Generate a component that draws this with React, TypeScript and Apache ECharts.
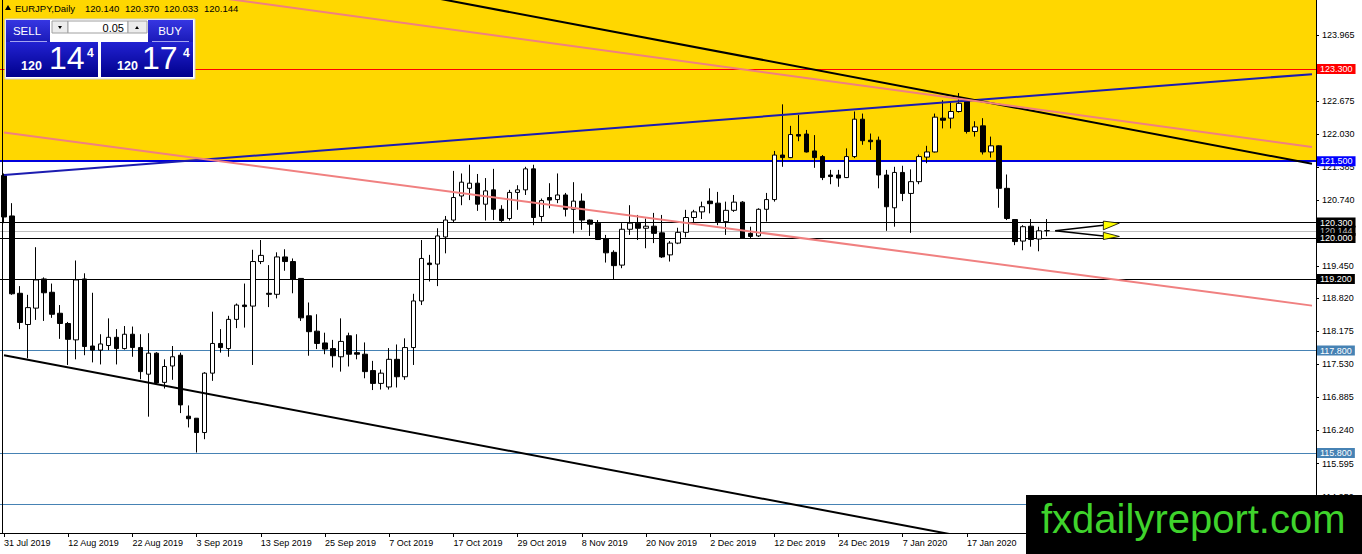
import React, { useEffect, useRef } from "react";
import * as echarts from "echarts";

// ---- categories (trading days) ----
const dates = [
  "31 Jul 2019",
  "1 Aug 2019", "2 Aug 2019", "5 Aug 2019", "6 Aug 2019", "7 Aug 2019", "8 Aug 2019", "9 Aug 2019",
  "12 Aug 2019", "13 Aug 2019", "14 Aug 2019", "15 Aug 2019", "16 Aug 2019", "19 Aug 2019", "20 Aug 2019",
  "21 Aug 2019", "22 Aug 2019", "23 Aug 2019", "26 Aug 2019", "27 Aug 2019", "28 Aug 2019", "29 Aug 2019", "30 Aug 2019",
  "2 Sep 2019", "3 Sep 2019", "4 Sep 2019", "5 Sep 2019", "6 Sep 2019", "9 Sep 2019", "10 Sep 2019", "11 Sep 2019",
  "12 Sep 2019", "13 Sep 2019", "16 Sep 2019", "17 Sep 2019", "18 Sep 2019", "19 Sep 2019", "20 Sep 2019",
  "23 Sep 2019", "24 Sep 2019", "25 Sep 2019", "26 Sep 2019", "27 Sep 2019", "30 Sep 2019",
  "1 Oct 2019", "2 Oct 2019", "3 Oct 2019", "4 Oct 2019", "7 Oct 2019", "8 Oct 2019", "9 Oct 2019", "10 Oct 2019",
  "11 Oct 2019", "14 Oct 2019", "15 Oct 2019", "16 Oct 2019", "17 Oct 2019", "18 Oct 2019", "21 Oct 2019",
  "22 Oct 2019", "23 Oct 2019", "24 Oct 2019", "25 Oct 2019", "28 Oct 2019", "29 Oct 2019", "30 Oct 2019", "31 Oct 2019",
  "1 Nov 2019", "4 Nov 2019", "5 Nov 2019", "6 Nov 2019", "7 Nov 2019", "8 Nov 2019", "11 Nov 2019", "12 Nov 2019",
  "13 Nov 2019", "14 Nov 2019", "15 Nov 2019", "18 Nov 2019", "19 Nov 2019", "20 Nov 2019", "21 Nov 2019",
  "22 Nov 2019", "25 Nov 2019", "26 Nov 2019", "27 Nov 2019", "28 Nov 2019", "29 Nov 2019",
  "2 Dec 2019", "3 Dec 2019", "4 Dec 2019", "5 Dec 2019", "6 Dec 2019", "9 Dec 2019", "10 Dec 2019", "11 Dec 2019",
  "12 Dec 2019", "13 Dec 2019", "16 Dec 2019", "17 Dec 2019", "18 Dec 2019", "19 Dec 2019", "20 Dec 2019",
  "23 Dec 2019", "24 Dec 2019", "26 Dec 2019", "27 Dec 2019", "30 Dec 2019", "31 Dec 2019",
  "2 Jan 2020", "3 Jan 2020", "6 Jan 2020", "7 Jan 2020", "8 Jan 2020", "9 Jan 2020", "10 Jan 2020",
  "13 Jan 2020", "14 Jan 2020", "15 Jan 2020", "16 Jan 2020", "17 Jan 2020", "20 Jan 2020", "21 Jan 2020",
  "22 Jan 2020", "23 Jan 2020", "24 Jan 2020", "27 Jan 2020", "28 Jan 2020", "29 Jan 2020", "30 Jan 2020", "31 Jan 2020",
];

// ---- OHLC values ----
const opens = [
  121.22, 120.43, 118.92, 118.31, 118.63, 119.20, 118.94, 118.53, 118.33, 118.01,
  119.20, 117.89, 117.81, 117.90, 118.06, 117.84, 118.12, 117.86, 117.34, 117.75,
  117.18, 117.50, 117.71, 116.52, 116.48, 116.20, 117.36, 117.94, 117.84, 118.41,
  118.69, 118.67, 119.54, 118.92, 118.90, 119.63, 119.54, 119.21, 118.48, 118.18,
  117.95, 117.84, 117.68, 118.09, 117.76, 117.73, 117.41, 117.16, 117.09, 117.63,
  117.29, 117.86, 118.77, 119.51, 119.49, 120.02, 120.35, 120.82, 120.97, 121.07,
  120.66, 120.94, 120.56, 120.38, 120.89, 120.94, 121.35, 120.42, 120.79, 120.75,
  120.84, 120.56, 120.72, 120.35, 120.29, 119.99, 119.72, 119.47, 120.17, 120.29,
  120.19, 120.23, 120.10, 119.67, 119.90, 120.11, 120.40, 120.51, 120.72, 120.68,
  120.32, 120.54, 120.70, 120.09, 120.04, 120.56, 120.75, 121.62, 121.57, 122.02,
  122.03, 121.70, 121.59, 121.23, 121.23, 121.18, 121.59, 122.32, 121.91, 121.91,
  121.23, 120.59, 121.28, 120.87, 121.10, 121.58, 121.68, 122.34, 122.34, 122.47,
  122.68, 122.08, 122.19, 121.68, 121.80, 120.97, 120.36, 119.94, 120.23, 119.98,
  120.140,
];
const closes = [
  120.41, 118.91, 118.35, 118.64, 119.18, 118.93, 118.51, 118.33, 118.02, 119.18,
  117.88, 117.81, 117.93, 118.06, 117.84, 118.12, 117.86, 117.39, 117.75, 117.17,
  117.49, 117.68, 116.74, 116.47, 116.20, 117.36, 117.94, 117.86, 118.41, 118.69,
  118.66, 119.54, 119.66, 118.90, 119.63, 119.54, 119.19, 118.44, 118.17, 117.94,
  117.83, 117.70, 117.98, 117.73, 117.73, 117.39, 117.16, 117.36, 117.63, 117.29,
  117.86, 118.77, 119.60, 119.48, 120.04, 120.35, 120.79, 121.09, 121.07, 120.66,
  120.92, 120.56, 120.34, 120.89, 120.94, 121.35, 120.40, 120.73, 120.74, 120.84,
  120.56, 120.72, 120.35, 120.27, 119.97, 119.71, 119.46, 120.17, 120.29, 120.19,
  120.23, 120.09, 119.63, 119.90, 120.11, 120.40, 120.51, 120.61, 120.67, 120.32,
  120.54, 120.70, 119.99, 120.03, 120.56, 120.75, 121.62, 121.57, 122.02, 121.99,
  121.68, 121.57, 121.18, 121.20, 121.17, 121.59, 122.32, 121.90, 121.88, 121.23,
  120.61, 121.28, 120.87, 121.10, 121.59, 121.68, 122.36, 122.30, 122.47, 122.63,
  122.08, 122.17, 121.68, 121.80, 120.97, 120.38, 119.93, 120.22, 119.97, 120.14,
  120.144,
];
const lows = [
  120.29, 118.89, 118.22, 117.65, 118.40, 118.38, 118.44, 118.03, 117.52, 117.63,
  117.71, 117.57, 117.53, 117.81, 117.53, 117.82, 117.68, 117.24, 116.51, 117.15,
  117.06, 117.23, 116.58, 116.30, 115.81, 116.07, 117.21, 117.76, 117.68, 118.24,
  118.25, 117.52, 119.49, 118.65, 118.82, 119.36, 118.92, 118.38, 117.70, 117.83,
  117.73, 117.47, 117.39, 117.49, 117.63, 117.26, 117.03, 117.04, 117.04, 117.08,
  117.23, 117.52, 118.69, 119.15, 119.06, 119.70, 120.30, 120.64, 120.74, 120.53,
  120.34, 120.35, 120.30, 120.34, 120.55, 120.84, 120.25, 120.32, 120.58, 120.68,
  120.42, 120.09, 120.16, 120.04, 119.96, 119.52, 119.19, 119.41, 120.06, 119.96,
  119.80, 119.90, 119.61, 119.54, 119.88, 120.01, 120.29, 120.37, 120.48, 120.25,
  120.06, 120.51, 119.98, 119.99, 120.02, 120.32, 120.71, 121.39, 121.56, 121.89,
  121.67, 121.37, 121.13, 121.05, 121.00, 121.17, 121.56, 121.82, 121.72, 120.97,
  120.14, 120.22, 120.72, 120.10, 121.05, 121.46, 121.67, 122.14, 122.14, 122.45,
  122.04, 121.98, 121.63, 121.57, 120.59, 120.35, 119.86, 119.76, 119.83, 119.74,
  120.033,
];
const highs = [
  121.26, 120.68, 119.06, 118.89, 119.82, 119.23, 119.11, 118.69, 118.36, 119.56,
  119.31, 118.93, 118.12, 118.43, 118.22, 118.28, 118.27, 118.12, 118.14, 117.77,
  117.63, 117.89, 117.76, 116.73, 116.48, 117.38, 118.56, 118.22, 118.48, 118.72,
  119.11, 119.77, 119.96, 119.47, 119.72, 119.78, 119.60, 119.21, 118.74, 118.51,
  118.15, 118.01, 118.43, 118.15, 118.12, 117.96, 117.60, 117.43, 117.85, 117.92,
  118.04, 118.91, 119.96, 119.67, 120.19, 120.43, 121.31, 121.26, 121.43, 121.25,
  121.17, 121.35, 120.64, 120.94, 121.03, 121.39, 121.43, 120.77, 121.07, 121.26,
  120.88, 121.09, 120.87, 120.36, 120.35, 120.06, 119.76, 120.29, 120.64, 120.45,
  120.38, 120.49, 120.45, 119.94, 120.20, 120.55, 120.55, 120.71, 120.97, 120.90,
  120.71, 120.84, 120.72, 120.22, 120.58, 120.88, 121.70, 122.61, 122.19, 122.40,
  122.11, 122.01, 121.62, 121.33, 121.33, 121.75, 122.47, 122.43, 122.04, 121.98,
  121.33, 121.39, 121.41, 121.34, 121.63, 121.80, 122.43, 122.69, 122.66, 122.83,
  122.73, 122.28, 122.34, 121.98, 121.81, 121.24, 120.36, 120.25, 120.37, 120.22,
  120.370,
];

// empty slots to the right of the last bar (chart shift)
const padSlots = 33;

// right price scale tick labels
const priceTicks = [123.965, 122.675, 122.03, 121.385, 120.74, 119.45, 118.82, 118.175, 117.53, 116.885, 116.24, 115.595, 114.95];
const priceMin = 114.238;
const priceMax = 124.648;

// horizontal levels
const levelPrices = [120.144, 123.3, 121.5, 120.3, 120.0, 119.2, 117.8, 115.8, 114.8];
const levelKinds = ["bid", "red", "blue", "black", "black", "black", "steel", "steel", "steel"];

// zone (yellow) lower bound
const zoneFloor = 121.5;

// trend lines: price at first slot, price at slot 163
const trendKinds = ["blue", "black", "pink", "pink", "black"];
const trendStartPrice = [121.23, 126.28, 125.265, 122.058, 117.709];
const trendEndPrice = [123.2, 121.45, 121.777, 118.679, 112.88];
const trendStartIdx = 0;
const trendEndIdx = 163;

// arrow object (slot index, price)
const arrowApex = [131, 120.14];
const arrowUpperEnd = [137, 120.25];
const arrowLowerEnd = [137, 120.04];
const arrowUpperHead = [[137, 120.33], [137, 120.16], [139, 120.29]];
const arrowLowerHead = [[137, 120.11], [137, 119.97], [139, 120.03]];

// header quote
const symbolTitle = "EURJPY,Daily";
const quoteValues = ["120.140", "120.370", "120.033", "120.144"];

const FONT = "'Liberation Sans', Arial, sans-serif";

const levelStyle: Record<string, { line: string; width: number; tag: string; text: string }> = {
  bid: { line: "#c0c0c0", width: 1, tag: "#000000", text: "#c0c0c0" },
  red: { line: "#ff0000", width: 1, tag: "#ff0000", text: "#ffffff" },
  blue: { line: "#0000dd", width: 2, tag: "#0000ff", text: "#ffffff" },
  black: { line: "#000000", width: 1, tag: "#000000", text: "#ffffff" },
  steel: { line: "#4682b4", width: 1, tag: "#4682b4", text: "#ffffff" },
};
const trendStyle: Record<string, { color: string; width: number }> = {
  blue: { color: "#1c1cb0", width: 2 },
  black: { color: "#000000", width: 2 },
  pink: { color: "#f08080", width: 2 },
};

function grad(c1: string, c2: string) {
  return { type: "linear", x: 0, y: 0, x2: 0, y2: 1, colorStops: [{ offset: 0, color: c1 }, { offset: 1, color: c2 }] };
}

function buildOption() {
  const N = dates.length + padSlots;
  const categories = [...dates, ...Array.from({ length: padSlots }, (_, i) => "pad" + i)];
  const candleData = opens.map((o, i) => [o, closes[i], lows[i], highs[i]]);

  const markLineData = levelPrices.map((p, i) => {
    const s = levelStyle[levelKinds[i]];
    return {
      yAxis: p,
      lineStyle: { color: s.line, width: s.width, type: "solid" },
      label: {
        show: true,
        position: "end",
        distance: 1,
        formatter: p.toFixed(3),
        color: s.text,
        backgroundColor: s.tag,
        padding: [1, 3, 0, 3],
        lineHeight: 9,
        fontSize: 9,
        fontFamily: FONT,
      },
    };
  });

  const trendSeries = trendKinds.map((k, t) => {
    const data: (number | null)[] = new Array(N).fill(null);
    data[trendStartIdx] = trendStartPrice[t];
    data[trendEndIdx] = trendEndPrice[t];
    return {
      type: "line",
      data,
      connectNulls: true,
      showSymbol: false,
      symbol: "none",
      silent: true,
      z: 3,
      clip: true,
      lineStyle: { color: trendStyle[k].color, width: trendStyle[k].width },
    };
  });

  const arrowSeries = {
    type: "custom",
    z: 4,
    silent: true,
    data: [arrowApex],
    renderItem: (_params: any, api: any) => {
      const a = api.coord(arrowApex);
      const u = api.coord(arrowUpperEnd);
      const l = api.coord(arrowLowerEnd);
      const uh = arrowUpperHead.map((p) => api.coord(p));
      const lh = arrowLowerHead.map((p) => api.coord(p));
      return {
        type: "group",
        children: [
          { type: "line", shape: { x1: a[0], y1: a[1], x2: u[0], y2: u[1] }, style: { stroke: "#000", lineWidth: 1.5 } },
          { type: "line", shape: { x1: a[0], y1: a[1], x2: l[0], y2: l[1] }, style: { stroke: "#000", lineWidth: 1.5 } },
          { type: "polygon", shape: { points: uh }, style: { fill: "#ffff00", stroke: "#000", lineWidth: 0.8 } },
          { type: "polygon", shape: { points: lh }, style: { fill: "#ffff00", stroke: "#000", lineWidth: 0.8 } },
        ],
      };
    },
  };

  const panelZ = 100;
  const txt = (x: number, y: number, text: string, size: number, opts: any = {}) => ({
    type: "text",
    x,
    y,
    z: panelZ + 3,
    style: {
      text,
      fill: opts.fill || "#fff",
      fontSize: size,
      fontFamily: FONT,
      fontWeight: opts.weight || "normal",
      align: opts.align || "left",
      verticalAlign: "middle",
    },
  });

  const graphic: any[] = [
    // left frame line
    { type: "line", z: 50, shape: { x1: 2.5, y1: 0, x2: 2.5, y2: 533 }, style: { stroke: "#000", lineWidth: 1 } },
    // header
    { type: "polygon", z: panelZ, shape: { points: [[5, 10], [11, 10], [8, 5]] }, style: { fill: "#000" } },
    txt(15, 8, symbolTitle, 9.5, { fill: "#000" }),
    txt(85, 8, quoteValues[0], 9.5, { fill: "#000" }),
    txt(125, 8, quoteValues[1], 9.5, { fill: "#000" }),
    txt(164, 8, quoteValues[2], 9.5, { fill: "#000" }),
    txt(204, 8, quoteValues[3], 9.5, { fill: "#000" }),
    // panel base
    { type: "rect", z: panelZ, shape: { x: 5, y: 19, width: 190, height: 60 }, style: { fill: "#ffffff", stroke: "#d0d0d0", lineWidth: 1 } },
    { type: "rect", z: panelZ + 1, shape: { x: 6, y: 20, width: 44, height: 22 }, style: { fill: grad("#3636e2", "#1a1ab8") } },
    { type: "rect", z: panelZ + 1, shape: { x: 148, y: 20, width: 45, height: 22 }, style: { fill: grad("#3636e2", "#1a1ab8") } },
    { type: "rect", z: panelZ + 1, shape: { x: 6, y: 42, width: 92, height: 35 }, style: { fill: grad("#2222d2", "#00008c") } },
    { type: "rect", z: panelZ + 1, shape: { x: 101, y: 42, width: 92, height: 35 }, style: { fill: grad("#2222d2", "#00008c") } },
    { type: "line", z: panelZ + 2, shape: { x1: 10, y1: 41.5, x2: 47, y2: 41.5 }, style: { stroke: "#c8c8ff", lineWidth: 0.8 } },
    { type: "line", z: panelZ + 2, shape: { x1: 152, y1: 41.5, x2: 189, y2: 41.5 }, style: { stroke: "#c8c8ff", lineWidth: 0.8 } },
    // lot controls
    { type: "rect", z: panelZ + 1, shape: { x: 52, y: 21, width: 16, height: 12 }, style: { fill: "#ececec", stroke: "#a0a0a0", lineWidth: 1 } },
    { type: "polygon", z: panelZ + 2, shape: { points: [[58, 26], [62, 26], [60, 29]] }, style: { fill: "#000" } },
    { type: "rect", z: panelZ + 1, shape: { x: 68, y: 21, width: 60, height: 12 }, style: { fill: "#ffffff", stroke: "#a0a0a0", lineWidth: 1 } },
    txt(124, 27.5, "0.05", 11, { fill: "#000", align: "right" }),
    { type: "rect", z: panelZ + 1, shape: { x: 128, y: 21, width: 19, height: 12 }, style: { fill: "#ececec", stroke: "#a0a0a0", lineWidth: 1 } },
    { type: "polygon", z: panelZ + 2, shape: { points: [[135, 29], [139, 29], [137, 26]] }, style: { fill: "#000" } },
    txt(27, 30.5, "SELL", 11.5, { align: "center" }),
    txt(170, 30.5, "BUY", 11.5, { align: "center" }),
    // prices
    txt(21, 65.5, "120", 12.5, { weight: "bold" }),
    txt(49, 57.5, "14", 32),
    txt(87, 53, "4", 12, { weight: "bold" }),
    txt(117, 65.5, "120", 12.5, { weight: "bold" }),
    txt(142, 57.5, "17", 32),
    txt(183, 53, "4", 12, { weight: "bold" }),
    // watermark
    { type: "rect", z: 200, shape: { x: 1026, y: 495, width: 336, height: 59 }, style: { fill: "#000" } },
    {
      type: "text",
      z: 201,
      x: 1041,
      y: 519,
      style: { text: "fxdailyreport.com", fill: "#3fd32c", fontSize: 40, fontFamily: FONT, align: "left", verticalAlign: "middle" },
    },
  ];

  return {
    animation: false,
    backgroundColor: "#ffffff",
    textStyle: { fontFamily: FONT },
    grid: { left: 0, right: 46, top: 0, bottom: 21, containLabel: false, outerBoundsMode: "none" },
    xAxis: {
      type: "category",
      data: categories,
      boundaryGap: true,
      axisLine: { show: true, onZero: false, lineStyle: { color: "#000", width: 1 } },
      axisTick: { show: true, interval: 7, alignWithLabel: true, length: 4, lineStyle: { color: "#000" } },
      axisLabel: {
        interval: 7,
        align: "left",
        margin: 5,
        fontSize: 9,
        color: "#000",
        fontFamily: FONT,
        formatter: (v: string, i: number) => (i < dates.length ? v : ""),
      },
      splitLine: { show: false },
    },
    yAxis: {
      type: "value",
      position: "right",
      min: priceMin,
      max: priceMax,
      scale: true,
      axisLine: { show: true, lineStyle: { color: "#000", width: 1 } },
      axisTick: { show: true, length: 3, customValues: priceTicks, lineStyle: { color: "#000" } },
      axisLabel: {
        customValues: priceTicks,
        formatter: (v: number) => v.toFixed(3),
        color: "#000",
        fontSize: 9,
        fontFamily: FONT,
        margin: 6,
      },
      splitLine: { show: false },
    },
    series: [
      {
        type: "candlestick",
        data: candleData,
        barWidth: 5,
        z: 2,
        itemStyle: {
          color: "#ffffff",
          color0: "#000000",
          borderColor: "#000000",
          borderColor0: "#000000",
          borderColorDoji: "#000000",
          borderWidth: 1,
        },
        markArea: {
          silent: true,
          z: 1,
          itemStyle: { color: "#ffd700", borderWidth: 0 },
          label: { show: false },
          data: [[{ yAxis: zoneFloor }, { yAxis: priceMax }]],
        },
        markLine: {
          silent: true,
          z: 1.5,
          symbol: ["none", "none"],
          animation: false,
          data: markLineData,
        },
      },
      ...trendSeries,
      arrowSeries,
    ],
    graphic,
  };
}

export default function App() {
  const ref = useRef<HTMLDivElement>(null);
  useEffect(() => {
    document.body.style.margin = "0";
    if (!ref.current) return;
    const chart = echarts.init(ref.current, undefined, { renderer: "svg" });
    chart.setOption(buildOption() as any);
    return () => chart.dispose();
  }, []);
  return (
    <div
      ref={ref}
      style={{ position: "fixed", left: 0, top: 0, width: 1362, height: 554, background: "#fff" }}
    />
  );
}
